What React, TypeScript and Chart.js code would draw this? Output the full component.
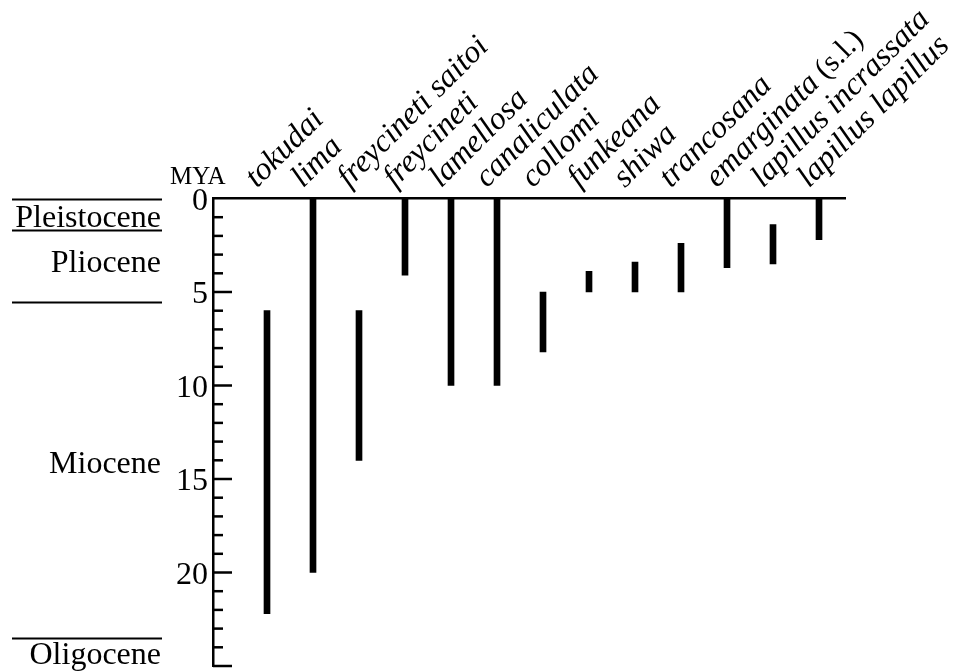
import React, { useEffect, useRef } from 'react';
import { Chart, registerables } from 'chart.js';

Chart.register(...registerables);

// ---- data ----
const species = [
  'tokudai', 'lima', 'freycineti saitoi', 'freycineti', 'lamellosa', 'canaliculata',
  'collomi', 'funkeana', 'shiwa', 'trancosana', 'emarginata', 'lapillus incrassata', 'lapillus lapillus',
];
const speciesSuffix = ['', '', '', '', '', '', '', '', '', '', ' (s.l.)', '', ''];
const rangeStart = [6, 0, 6, 0, 0, 0, 5, 3.9, 3.4, 2.4, 0, 1.4, 0];
const rangeEnd = [22.2, 20, 14, 4.1, 10, 10, 8.2, 5, 5, 5, 3.7, 3.5, 2.2];
const yMin = 0;
const yMax = 25;
const yLabels = [0, 5, 10, 15, 20];
const yMajorStep = 5;
const epochNames = ['Pleistocene', 'Pliocene', 'Miocene', 'Oligocene'];
const epochLabelAt = [1.5, 3.95, 14.7, 24.9];
const epochBoundaries = [0, 1.7, 5.55, 23.5];
const unitLabel = 'MYA';

const SERIF = "'Liberation Serif', 'Times New Roman', serif";

const overlayPlugin = {
  id: 'overlay',
  afterDraw(chart: any) {
    const ctx = chart.ctx as CanvasRenderingContext2D;
    const xs = chart.scales.x;
    const ys = chart.scales.y;
    const left = chart.chartArea.left;
    const top = chart.chartArea.top;
    ctx.save();
    // inward tick marks
    ctx.strokeStyle = '#000';
    ctx.lineWidth = 2.5;
    ys.ticks.forEach((t: any) => {
      const v = t.value;
      if (v === 0) return;
      const py = ys.getPixelForValue(v);
      const len = v % yMajorStep === 0 ? 19 : 10;
      ctx.beginPath();
      ctx.moveTo(left, py);
      ctx.lineTo(left + len, py);
      ctx.stroke();
    });
    // epoch boundaries
    ctx.lineWidth = 2;
    epochBoundaries.forEach((b) => {
      const py = Math.round(ys.getPixelForValue(b)) + 0.5;
      ctx.beginPath();
      ctx.moveTo(12, py);
      ctx.lineTo(162, py);
      ctx.stroke();
    });
    // epoch names
    ctx.fillStyle = '#000';
    ctx.font = `32px ${SERIF}`;
    ctx.textAlign = 'right';
    ctx.textBaseline = 'alphabetic';
    epochNames.forEach((n, i) => {
      ctx.fillText(n, 161, ys.getPixelForValue(epochLabelAt[i]));
    });
    // unit label
    ctx.font = `25px ${SERIF}`;
    ctx.textAlign = 'left';
    ctx.fillText(unitLabel, 170, top - 15);
    // species labels
    species.forEach((s, i) => {
      const px = xs.getPixelForValue(i + 1);
      ctx.save();
      ctx.translate(px - 10, top - 10);
      ctx.rotate(-Math.PI / 4);
      ctx.textAlign = 'left';
      ctx.font = `italic 32px ${SERIF}`;
      ctx.fillText(s, 0, 0);
      if (speciesSuffix[i]) {
        const w = ctx.measureText(s).width;
        ctx.font = `30px ${SERIF}`;
        ctx.fillText(speciesSuffix[i], w, 0);
      }
      ctx.restore();
    });
    ctx.restore();
  },
};

export default function App() {
  const ref = useRef<HTMLCanvasElement | null>(null);
  useEffect(() => {
    document.body.style.margin = '0';
    const canvas = ref.current;
    if (!canvas) return;
    const data = species.map((_, i) => ({ x: i + 1, y: [rangeStart[i], rangeEnd[i]] }));
    const chart = new Chart(canvas, {
      type: 'bar',
      data: {
        datasets: [
          {
            data: data as any,
            backgroundColor: '#000',
            borderWidth: 0,
            barThickness: 6,
          },
        ],
      },
      options: {
        animation: false,
        responsive: false,
        layout: { padding: { left: 0, top: 0, right: 116, bottom: 6 } },
        plugins: { legend: { display: false }, tooltip: { enabled: false } },
        scales: {
          x: {
            type: 'linear',
            position: 'top',
            offset: false,
            min: -0.174,
            max: 13.565,
            ticks: { display: false },
            grid: { display: false, offset: false },
            border: { display: true, color: '#000', width: 2.5 },
            afterFit: (s: any) => {
              s.height = 198.5;
              s.paddingLeft = 0;
              s.paddingRight = 0;
            },
          },
          y: {
            type: 'linear',
            reverse: true,
            min: yMin,
            max: yMax,
            ticks: {
              stepSize: 1,
              autoSkip: false,
              color: '#000',
              padding: 5,
              labelOffset: 3,
              font: { family: SERIF, size: 32 },
              callback: (v: any) => (yLabels.includes(Number(v)) ? String(v) : ''),
            },
            grid: { display: true, drawOnChartArea: false, drawTicks: false, color: 'rgba(0,0,0,0)' },
            border: { display: true, color: '#000', width: 2.5 },
            afterFit: (s: any) => {
              s.width = 213;
              s.paddingTop = 0;
              s.paddingBottom = 0;
            },
          },
        },
      },
      plugins: [overlayPlugin],
    });
    return () => chart.destroy();
  }, []);
  return (
    <div style={{ position: 'absolute', left: 0, top: 0, width: 961, height: 672, background: '#fff' }}>
      <canvas ref={ref} width={961} height={672} />
    </div>
  );
}
